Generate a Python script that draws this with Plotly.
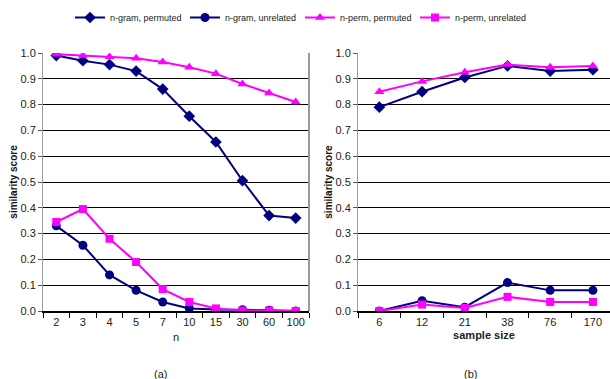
import plotly.graph_objects as go

n_cats = ["2", "3", "4", "5", "7", "10", "15", "30", "60", "100"]
a_ngram_perm = [0.99, 0.97, 0.955, 0.93, 0.86, 0.755, 0.655, 0.505, 0.37, 0.36]
a_ngram_unrel = [0.33, 0.255, 0.14, 0.08, 0.035, 0.01, 0.006, 0.005, 0.003, 0.0]
a_nperm_perm = [0.995, 0.99, 0.985, 0.98, 0.965, 0.945, 0.92, 0.88, 0.845, 0.81]
a_nperm_unrel = [0.345, 0.395, 0.28, 0.19, 0.085, 0.035, 0.01, 0.002, 0.002, 0.0]

s_cats = ["6", "12", "21", "38", "76", "170"]
b_ngram_perm = [0.79, 0.85, 0.905, 0.95, 0.93, 0.935]
b_ngram_unrel = [0.0, 0.04, 0.015, 0.11, 0.08, 0.08]
b_nperm_perm = [0.85, 0.89, 0.925, 0.955, 0.945, 0.95]
b_nperm_unrel = [0.0, 0.025, 0.012, 0.055, 0.035, 0.035]

names = ["n-gram, permuted", "n-gram, unrelated", "n-perm, permuted", "n-perm, unrelated"]
colors = ["#000080", "#000080", "#FF00FF", "#FF00FF"]
symbols = ["diamond", "circle", "triangle-up", "square"]
sizes = [9, 9, 9, 8]

fig = go.Figure()
for i, ys in enumerate([a_ngram_perm, a_ngram_unrel, a_nperm_perm, a_nperm_unrel]):
    fig.add_trace(go.Scatter(x=n_cats, y=ys, name=names[i], mode="lines+markers",
                             line=dict(color=colors[i], width=2),
                             marker=dict(symbol=symbols[i], size=sizes[i], color=colors[i]),
                             xaxis="x", yaxis="y", showlegend=True))
for i, ys in enumerate([b_ngram_perm, b_ngram_unrel, b_nperm_perm, b_nperm_unrel]):
    fig.add_trace(go.Scatter(x=s_cats, y=ys, name=names[i], mode="lines+markers",
                             line=dict(color=colors[i], width=2),
                             marker=dict(symbol=symbols[i], size=sizes[i], color=colors[i]),
                             xaxis="x2", yaxis="y2", showlegend=False))

font = dict(family="Liberation Sans, Arial, sans-serif", size=11, color="#222")
ydom = [1 - 311 / 379, 1 - 53 / 379]
yax = dict(range=[0, 1.0], dtick=0.1, tickformat=".1f", showgrid=True, gridcolor="#000",
           gridwidth=1, showline=True, linecolor="#999", ticks="outside", ticklen=4,
           tickcolor="#555", zeroline=False, domain=ydom, automargin=False,
           title=dict(text="<b>similarity score</b>", font=dict(size=10, color="#111"), standoff=1))
xax = dict(showline=True, linecolor="#000", linewidth=2, ticks="outside", ticklen=5,
           tickcolor="#000", tickson="boundaries", showgrid=False, zeroline=False,
           tickangle=0, automargin=False, tickfont=dict(size=11, color="#222"))

fig.update_layout(
    width=610, height=379, margin=dict(l=0, r=0, t=0, b=0, autoexpand=False),
    paper_bgcolor="white", plot_bgcolor="white", font=font,
    xaxis=dict(domain=[43 / 610, 309 / 610], anchor="y", range=[-0.5, 9.5],
               title=dict(text="n", font=dict(size=11), standoff=6), **xax),
    yaxis=dict(anchor="x", **yax),
    xaxis2=dict(domain=[358 / 610, 1.0], anchor="y2", range=[-0.5, 5.4],
                title=dict(text="<b>sample size</b>", font=dict(size=11), standoff=4), **xax),
    yaxis2=dict(anchor="x2", **yax),
    legend=dict(orientation="h", x=70 / 610, xanchor="left", y=1 - 3 / 379, yanchor="top",
                font=dict(size=9, color="#222"), itemwidth=30, tracegroupgap=0,
                entrywidth=70, entrywidthmode="pixels",
                bgcolor="rgba(0,0,0,0)"),
    shapes=[dict(type="line", xref="paper", yref="paper", x0=309 / 610, x1=309 / 610,
                 y0=ydom[0], y1=ydom[1], line=dict(color="#999", width=2))],
    annotations=[
        dict(text="(a)", x=160 / 610, y=1 - 366 / 379, xref="paper", yref="paper",
             xanchor="center", yanchor="top", showarrow=False, font=dict(size=11, color="#222")),
        dict(text="(b)", x=470 / 610, y=1 - 366 / 379, xref="paper", yref="paper",
             xanchor="center", yanchor="top", showarrow=False, font=dict(size=11, color="#222")),
    ],
)

fig.write_html("out.html", config={"displayModeBar": False},
               post_script="document.body.style.margin='0';document.body.style.overflow='hidden';")
